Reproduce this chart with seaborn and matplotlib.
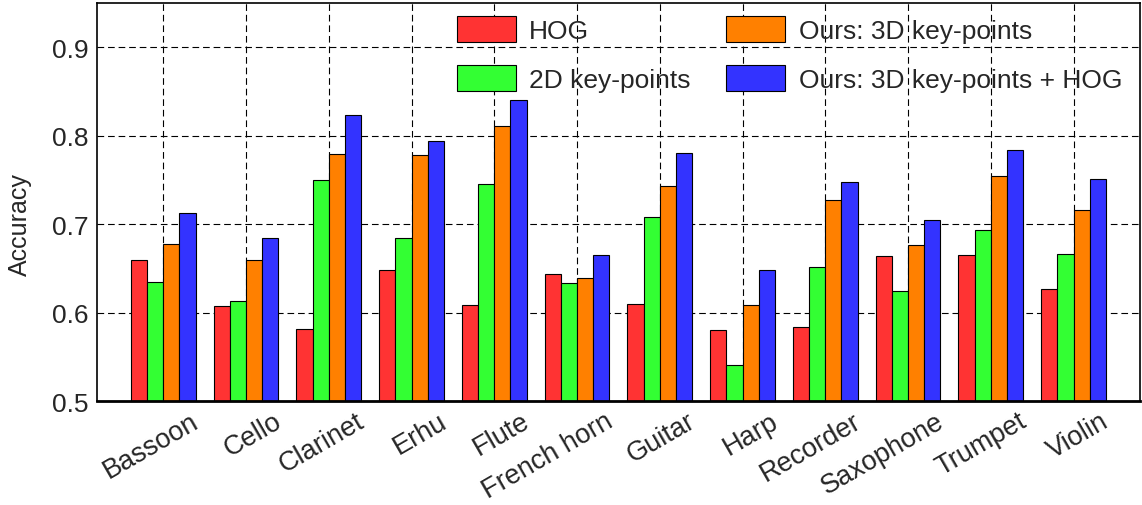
import pandas as pd
import seaborn as sns
import matplotlib.pyplot as plt
import matplotlib.transforms as mtransforms

instruments = ['Bassoon', 'Cello', 'Clarinet', 'Erhu', 'Flute', 'French horn',
               'Guitar', 'Harp', 'Recorder', 'Saxophone', 'Trumpet', 'Violin']
methods = ['HOG', '2D key-points', 'Ours: 3D key-points', 'Ours: 3D key-points + HOG']

hog = [0.660, 0.608, 0.581, 0.648, 0.609, 0.644, 0.610, 0.580, 0.584, 0.664, 0.665, 0.627]
kp2d = [0.635, 0.613, 0.750, 0.684, 0.745, 0.633, 0.708, 0.541, 0.652, 0.624, 0.693, 0.666]
kp3d = [0.677, 0.660, 0.779, 0.778, 0.811, 0.639, 0.743, 0.609, 0.727, 0.676, 0.755, 0.716]
kp3d_hog = [0.713, 0.684, 0.823, 0.794, 0.840, 0.665, 0.781, 0.648, 0.748, 0.705, 0.784, 0.751]

colors = ['#FF3333', '#33FF33', '#FF8000', '#3333FF']

rows = []
for m, vals in zip(methods, [hog, kp2d, kp3d, kp3d_hog]):
    for inst, v in zip(instruments, vals):
        rows.append({'instrument': inst, 'accuracy': v, 'method': m})
df = pd.DataFrame(rows)

sns.set_style('white')
plt.rcParams['font.family'] = ['Liberation Sans', 'DejaVu Sans']

fig = plt.figure(figsize=(11.42, 5.06), dpi=100)
ax = fig.add_axes([0.085, 0.2055, 0.913, 0.7865])

sns.barplot(data=df, x='instrument', y='accuracy', hue='method', hue_order=methods,
            palette=colors, saturation=1, width=0.78, edgecolor='black',
            linewidth=0.8, ax=ax)

ax.set_ylim(0.5, 0.95)
ax.set_xlim(-0.8, 11.8)
ax.set_yticks([0.5, 0.6, 0.7, 0.8, 0.9])
ax.set_yticklabels(['0.5', '0.6', '0.7', '0.8', '0.9'])
ax.set_xlabel('')
ax.set_ylabel('Accuracy', fontsize=18)
ax.yaxis.set_label_coords(-0.062, 0.445)
ax.tick_params(axis='y', labelsize=19, direction='in', length=4, width=0.8, pad=6, color='black')
ax.tick_params(axis='x', labelsize=19.5, direction='in', length=0, pad=0)

# rotated tick labels, anchored at their right end like the original
offset = mtransforms.ScaledTranslation(0.37, -0.24, fig.dpi_scale_trans)
for lbl in ax.get_xticklabels():
    lbl.set_rotation(30)
    lbl.set_ha('right')
    lbl.set_va('baseline')
    lbl.set_rotation_mode('anchor')
    lbl.set_transform(lbl.get_transform() + offset)

ax.set_axisbelow(True)
ax.grid(True, linestyle=(0, (6, 3.5)), color='black', linewidth=0.8)

for side in ['top', 'left', 'right']:
    ax.spines[side].set_linewidth(1.2)
    ax.spines[side].set_color('black')
ax.spines['bottom'].set_linewidth(2)
ax.spines['bottom'].set_color('black')

ax.legend(ncol=2, frameon=False, loc='upper left', bbox_to_anchor=(0.3455, 0.968),
          fontsize=19, handlelength=2.23, handleheight=1.15, labelspacing=0.85,
          columnspacing=1.35, handletextpad=0.5, borderpad=0, borderaxespad=0)

fig.savefig('out.png', dpi=100)
